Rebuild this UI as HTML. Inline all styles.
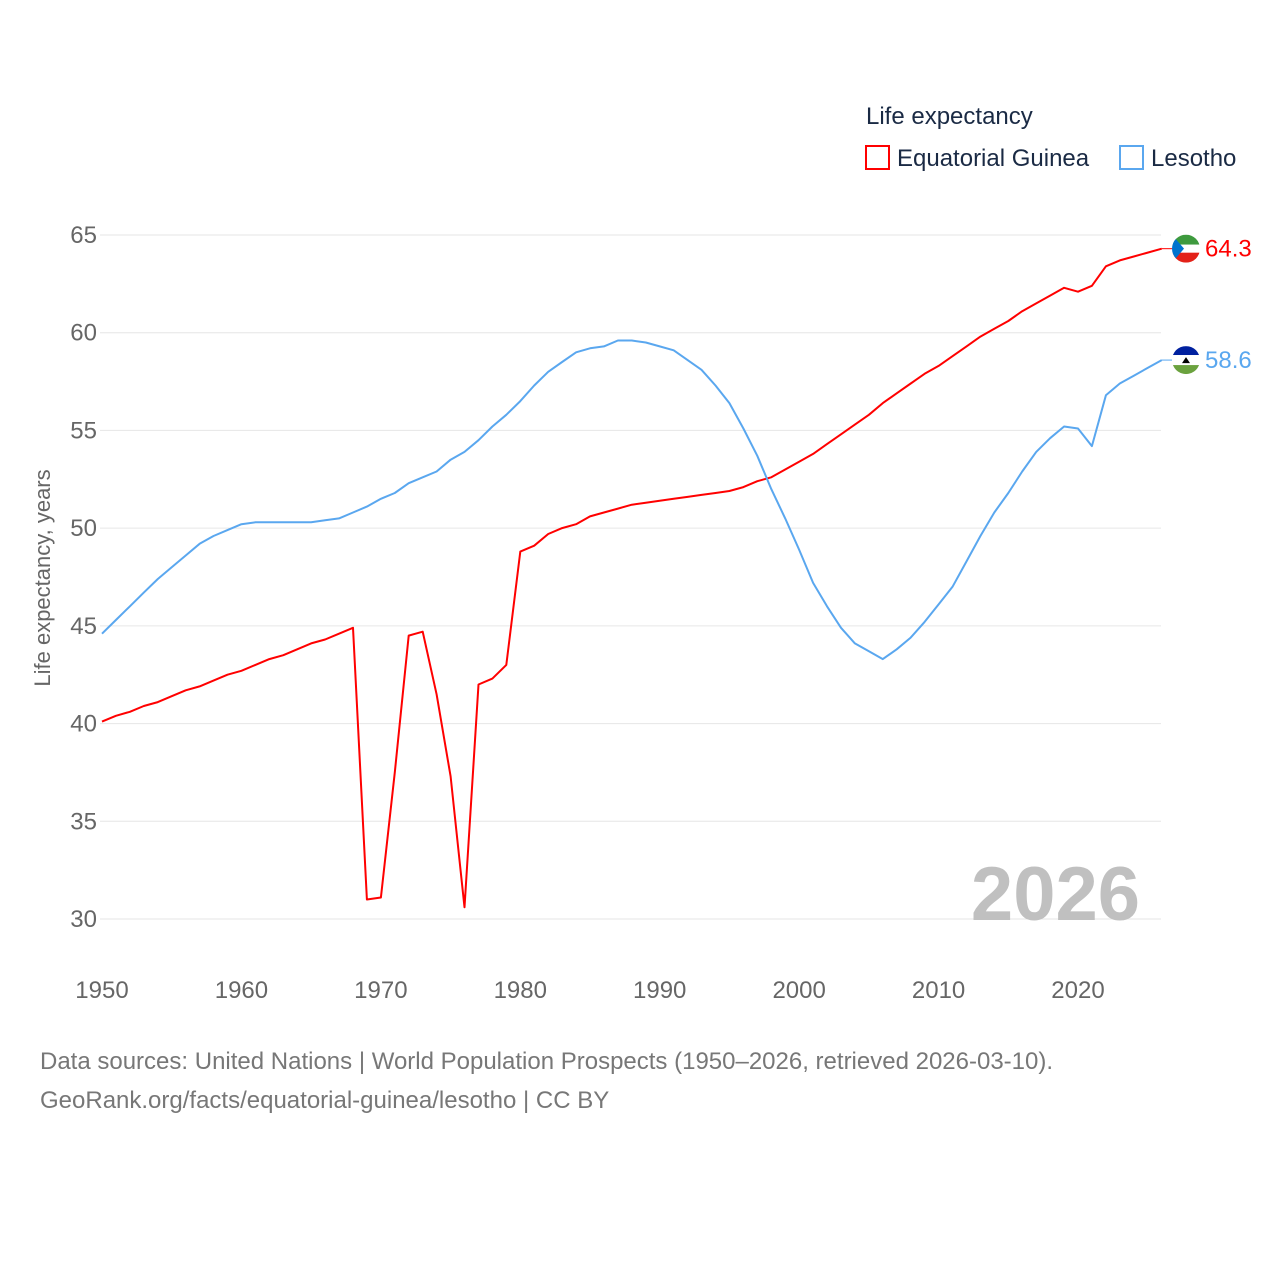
<!DOCTYPE html>
<html><head><meta charset="utf-8"><style>
body{margin:0;background:#fff;font-family:"Liberation Sans",sans-serif}
svg text{font-family:"Liberation Sans",sans-serif}
</style></head><body>
<svg width="1280" height="1280" viewBox="0 0 1280 1280">
<g id="grid"></g>
<g id="yticks"></g>
<g id="xticks"></g>
<text x="50" y="578" transform="rotate(-90 50 578)" text-anchor="middle" font-size="22" fill="#666">Life expectancy, years</text>
<text x="1140" y="920" text-anchor="end" font-size="76" font-weight="bold" fill="#c0c0c0">2026</text>
<g>
<text x="866" y="124" font-size="24" fill="#1a2a44">Life expectancy</text>
<g><rect x="866" y="146" width="23" height="23" fill="none" stroke="#f00" stroke-width="2"/><text x="897" y="166" font-size="24" fill="#1a2a44">Equatorial Guinea</text></g>
<g><rect x="1120" y="146" width="23" height="23" fill="none" stroke="#5aa7ef" stroke-width="2"/><text x="1151" y="166" font-size="24" fill="#1a2a44">Lesotho</text></g>
</g>
<g id="series"></g>
<g id="ends"></g>
<text x="40" y="1069" font-size="24" fill="#777">Data sources: United Nations | World Population Prospects (1950–2026, retrieved 2026-03-10).</text>
<text x="40" y="1108" font-size="24" fill="#777">GeoRank.org/facts/equatorial-guinea/lesotho | CC BY</text>
</svg>
<script>
const startYear = 1950;
const yTicks = [30,35,40,45,50,55,60,65];
const xTicks = [1950,1960,1970,1980,1990,2000,2010,2020];
const eqGuinea = [40.1,40.4,40.6,40.9,41.1,41.4,41.7,41.9,42.2,42.5,42.7,43.0,43.3,43.5,43.8,44.1,44.3,44.6,44.9,31.0,31.1,37.5,44.5,44.7,41.5,37.3,30.6,42.0,42.3,43.0,48.8,49.1,49.7,50.0,50.2,50.6,50.8,51.0,51.2,51.3,51.4,51.5,51.6,51.7,51.8,51.9,52.1,52.4,52.6,53.0,53.4,53.8,54.3,54.8,55.3,55.8,56.4,56.9,57.4,57.9,58.3,58.8,59.3,59.8,60.2,60.6,61.1,61.5,61.9,62.3,62.1,62.4,63.4,63.7,63.9,64.1,64.3];
const lesotho = [44.6,45.3,46.0,46.7,47.4,48.0,48.6,49.2,49.6,49.9,50.2,50.3,50.3,50.3,50.3,50.3,50.4,50.5,50.8,51.1,51.5,51.8,52.3,52.6,52.9,53.5,53.9,54.5,55.2,55.8,56.5,57.3,58.0,58.5,59.0,59.2,59.3,59.6,59.6,59.5,59.3,59.1,58.6,58.1,57.3,56.4,55.1,53.7,52.0,50.5,48.9,47.2,46.0,44.9,44.1,43.7,43.3,43.8,44.4,45.2,46.1,47.0,48.3,49.6,50.8,51.8,52.9,53.9,54.6,55.2,55.1,54.2,56.8,57.4,57.8,58.2,58.6];
const NS='http://www.w3.org/2000/svg';
const X = yr => 102 + (yr-1950)*(1078-102)/70;
const Y = v => 919 - (v-30)*(919-235)/35;
function mk(tag, attrs, parent){const e=document.createElementNS(NS,tag);for(const k in attrs)e.setAttribute(k,attrs[k]);parent.appendChild(e);return e;}
const grid=document.getElementById('grid'), yt=document.getElementById('yticks'), xt=document.getElementById('xticks');
yTicks.forEach(v=>{
  const l=mk('line',{x1:100,x2:1161,y1:Y(v),y2:Y(v),stroke:'#e6e6e6','stroke-width':1},grid);
  
  
  const t=mk('text',{x:97,y:Y(v)+8,'text-anchor':'end','font-size':24,fill:'#666'},yt);
  t.textContent=v;
  
  
});
xTicks.forEach(v=>{
  const t=mk('text',{x:X(v),y:998,'text-anchor':'middle','font-size':24,fill:'#666'},xt);
  t.textContent=v;
  
  
});
const series=document.getElementById('series'), ends=document.getElementById('ends');
function draw(arr,color,name,flag){
  const d=arr.map((v,i)=>(i?'L':'M')+X(startYear+i).toFixed(1)+' '+Y(v).toFixed(1)).join(' ');
  const p=mk('path',{d:d,fill:'none',stroke:color,'stroke-width':2,'stroke-linejoin':'round'},series);
  
  
  const last=arr[arr.length-1], ly=Y(last);
  const g=mk('g',{},ends);
  
  
  mk('line',{x1:X(startYear+arr.length-1),x2:1175,y1:ly,y2:ly,stroke:color,'stroke-width':1},g);
  flag(g,1186,ly);
  const t=mk('text',{x:1205,y:ly+8,'font-size':24,fill:color},ends);
  t.textContent=last.toFixed(1);
  
  
}
draw(eqGuinea,'#f00','equatorial-guinea',(g,cx,cy)=>{
  mk('clipPath',{id:'c1'},g).appendChild(document.createElementNS(NS,'circle'));
  const c=g.querySelector('#c1 circle');c.setAttribute('cx',cx);c.setAttribute('cy',cy);c.setAttribute('r',14);
  const f=mk('g',{'clip-path':'url(#c1)'},g);
  mk('rect',{x:cx-14,y:cy-14,width:28,height:10,fill:'#3e9a3e'},f);
  mk('rect',{x:cx-14,y:cy-4,width:28,height:8,fill:'#fff'},f);
  mk('rect',{x:cx-14,y:cy+4,width:28,height:10,fill:'#e32118'},f);
  mk('polygon',{points:`${cx-14},${cy-14} ${cx-2},${cy} ${cx-14},${cy+14}`,fill:'#0073ce'},f);
});
draw(lesotho,'#5aa7ef','lesotho',(g,cx,cy)=>{
  mk('clipPath',{id:'c2'},g).appendChild(document.createElementNS(NS,'circle'));
  const c=g.querySelector('#c2 circle');c.setAttribute('cx',cx);c.setAttribute('cy',cy);c.setAttribute('r',14);
  const f=mk('g',{'clip-path':'url(#c2)'},g);
  mk('rect',{x:cx-14,y:cy-14,width:28,height:9,fill:'#00209f'},f);
  mk('rect',{x:cx-14,y:cy-5,width:28,height:10,fill:'#fff'},f);
  mk('rect',{x:cx-14,y:cy+5,width:28,height:9,fill:'#6ba23e'},f);
  mk('path',{d:`M${cx-4} ${cy+3} L${cx+4} ${cy+3} L${cx} ${cy-3} Z`,fill:'#000'},f);
});
</script>
</body></html>
